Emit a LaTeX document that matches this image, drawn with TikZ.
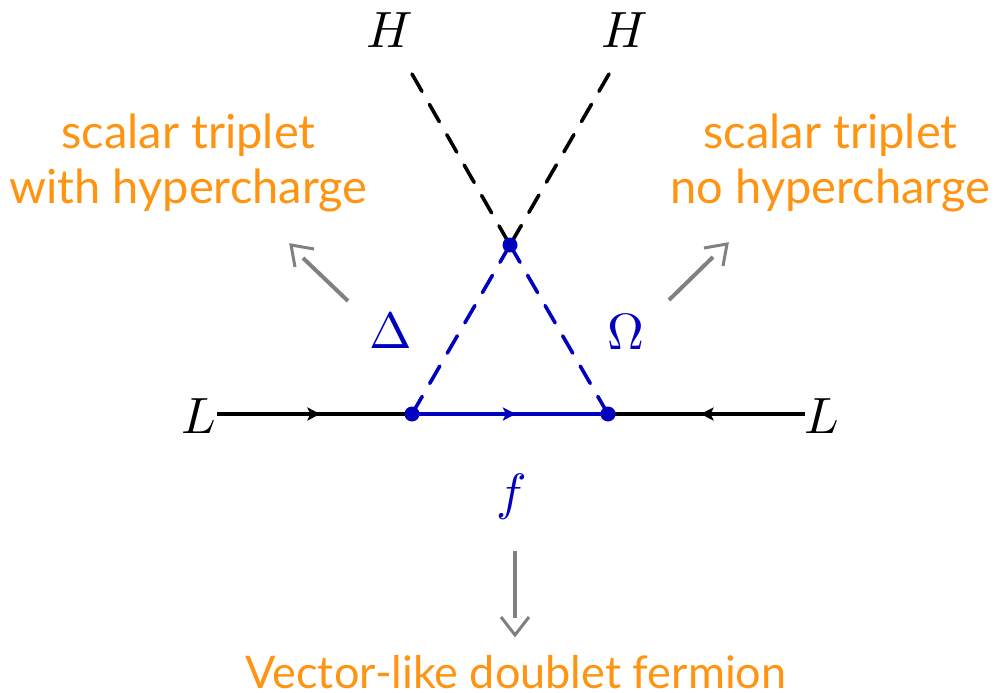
\documentclass[tikz,border=0pt]{standalone}
\usepackage{fontspec}
\setmainfont{Lato}
\usepackage{unicode-math}
\setmathfont{Latin Modern Math}
\usetikzlibrary{arrows.meta,decorations.markings}
\definecolor{lab}{RGB}{255,148,18}
\definecolor{blu}{RGB}{0,0,190}
\definecolor{gra}{RGB}{128,128,128}
\tikzset{
  x=1pt,y=-1pt,
  lbl/.style={text=lab,font=\fontsize{47}{55}\selectfont,align=center,inner sep=0},
  lblb/.style={lbl,font=\fontsize{45}{55}\selectfont},
  sym/.style={font=\fontsize{51}{51}\selectfont,inner sep=0},
  scal/.style={dash pattern=on 20pt off 15pt,line width=3.6pt,line cap=round},
  ferm/.style={line width=3.6pt,postaction={decorate},decoration={markings,mark=at position #1 with {\arrow{Stealth[length=13pt,width=13pt,inset=3pt]}}}},
  note/.style={gra,line width=4pt},
  notehead/.style={gra,line width=3pt,line join=miter},
  vert/.style={circle,fill=blu,minimum size=15pt,inner sep=0}
}
\begin{document}
\begin{tikzpicture}
\useasboundingbox (0,0) rectangle (994,693);
\coordinate (hl) at (412,74);
\coordinate (hr) at (609,74);
\coordinate (ll) at (217,414);
\coordinate (lr) at (805,414);
\coordinate (c) at (510,245);
\coordinate (cl) at (412,414);
\coordinate (cr) at (608,414);
\node[sym] (H1) at (390,30) {$H$};
\node[sym] (H2) at (625,30) {$H$};
\node[sym] (L1) at (199,416) {$L$};
\node[sym] (L2) at (822,416) {$L$};
\node[sym,text=blu] (D) at (391,330) {$\Delta$};
\node[sym,text=blu] (O) at (626,332) {$\Omega$};
\node[sym,text=blu] (F) at (511,497) {$f$};
\draw[scal] (hl) -- (c);
\draw[scal] (hr) -- (c);
\draw[scal,blu] (c) -- (cl);
\draw[scal,blu] (c) -- (cr);
\draw[ferm=0.53] (ll) -- (cl);
\draw[ferm=0.53,blu] (cl) -- (cr);
\draw[ferm=0.53] (lr) -- (cr);
\node[vert] (top) at (c) {};
\node[vert] (vl) at (cl) {};
\node[vert] (vr) at (cr) {};
\node[lbl,anchor=base] (t1) at (188.5,148) {scalar triplet};
\node[lbl,anchor=base] (t1b) at (188.5,203) {with hypercharge};
\node[lbl,anchor=base] (t2) at (830.5,148) {scalar triplet};
\node[lbl,anchor=base] (t2b) at (830.5,203) {no hypercharge};
\node[lblb,anchor=base] (t3) at (516,688) {Vector-like doublet fermion};
\coordinate (a1s) at (348,301); \coordinate (a1m) at (303,258); \coordinate (a1e) at (291,245);
\coordinate (a2s) at (669,300); \coordinate (a2m) at (713,257); \coordinate (a2e) at (727,244);
\coordinate (a3s) at (515,551); \coordinate (a3m) at (515,618); \coordinate (a3e) at (515,635);
\draw[note] (a1s) -- (a1m);
\draw[note] (a2s) -- (a2m);
\draw[note] (a3s) -- (a3m);
\draw[notehead] (a1e) ++(23,4) -- (a1e) -- ++(4,22);
\draw[notehead] (a2e) ++(-23,4) -- (a2e) -- ++(-4,22);
\draw[notehead] (a3e) ++(-14,-18) -- (a3e) -- ++(14,-18);
\end{tikzpicture}
\end{document}
